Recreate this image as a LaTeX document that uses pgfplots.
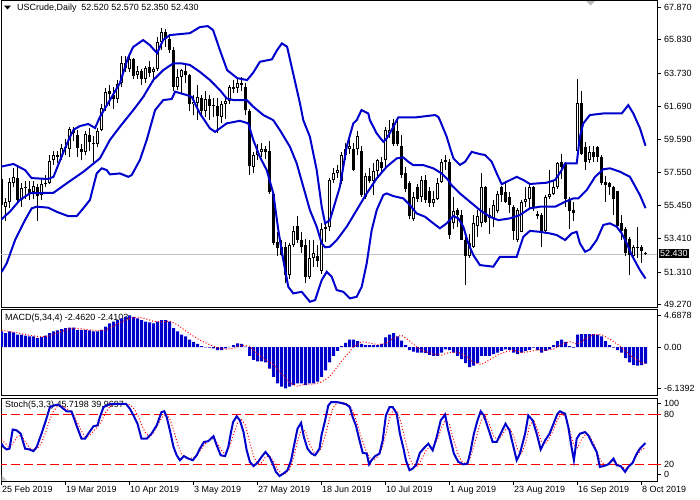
\documentclass[border=0pt]{standalone}
\usepackage{pgfplots}
\pgfplotsset{compat=1.18}
\usepackage{pgfplotstable}
\usepackage{fontspec}
\setmainfont{Liberation Sans}

\definecolor{mtblue}{RGB}{0,0,205}
\definecolor{pricegrey}{RGB}{192,192,192}
\newcommand{\mtfont}{\fontsize{9}{10}\selectfont}

% daily candles, bar 0 = 25 Feb 2019, bar 161 = 9 Oct 2019
\pgfplotstableread{
i O H L C
0 57.15 57.80 55.30 55.48
1 55.40 55.95 54.52 55.70
2 55.70 57.20 55.30 56.94
3 56.90 57.80 56.60 57.22
4 57.20 57.88 55.60 55.80
5 55.80 56.90 55.40 56.59
6 56.60 57.00 55.90 56.56
7 56.50 57.00 55.80 56.22
8 56.30 57.00 55.90 56.66
9 56.60 56.80 54.50 56.07
10 56.10 57.10 55.80 56.79
11 56.80 57.40 56.60 56.87
12 56.90 58.60 56.80 58.26
13 58.30 58.90 58.00 58.61
14 58.60 58.90 58.10 58.52
15 58.50 59.30 58.30 59.09
16 59.10 59.60 58.60 59.03
17 59.00 60.40 58.50 60.23
18 60.20 60.40 59.50 59.98
19 59.90 60.20 58.50 59.04
20 59.00 59.30 58.30 58.82
21 58.80 60.10 58.60 59.94
22 59.90 60.30 58.90 59.41
23 59.40 59.80 58.20 59.30
24 59.30 60.30 59.10 60.14
25 60.20 61.80 60.10 61.59
26 61.60 62.80 61.40 62.58
27 62.60 63.00 61.70 62.46
28 62.40 62.90 61.50 62.10
29 62.10 63.30 61.90 63.08
30 63.10 64.80 62.90 64.40
31 64.40 64.80 63.80 64.05
32 64.00 64.80 63.80 64.61
33 64.60 64.70 63.40 63.58
34 63.60 64.20 63.40 63.89
35 63.90 64.00 63.00 63.40
36 63.40 64.20 63.10 64.05
37 64.10 64.50 63.50 63.76
38 63.80 64.10 63.20 64.00
39 64.00 66.00 63.90 65.70
40 65.70 66.55 65.20 66.30
41 66.30 66.50 65.40 65.89
42 65.90 66.20 65.00 65.21
43 65.20 65.40 62.60 62.90
44 62.90 64.00 62.70 63.50
45 63.50 64.00 62.50 63.91
46 63.90 64.40 63.10 63.60
47 63.60 63.70 61.40 61.81
48 61.80 62.40 61.10 61.94
49 61.90 63.00 60.80 62.25
50 62.20 62.40 61.00 61.40
51 61.40 62.60 61.00 62.12
52 62.10 62.40 60.80 61.70
53 61.70 62.20 61.00 61.66
54 61.70 62.20 60.00 61.04
55 61.00 62.00 60.60 61.78
56 61.80 62.30 60.90 62.02
57 62.00 63.00 61.80 62.87
58 62.90 63.30 62.50 62.76
59 62.80 63.50 62.50 63.10
60 63.10 63.50 62.60 62.99
61 62.90 63.10 61.10 61.42
62 61.40 61.50 57.40 57.91
63 57.90 58.80 57.50 58.63
64 58.60 59.30 58.30 58.90
65 58.80 59.40 58.50 59.00
66 59.00 59.20 58.40 58.80
67 58.90 59.50 56.20 56.30
68 56.20 56.30 53.00 53.10
69 53.20 53.80 52.30 52.80
70 52.90 53.30 52.30 52.40
71 52.90 53.20 50.60 51.10
72 51.10 53.10 50.90 53.00
73 53.00 54.20 52.90 53.90
74 54.20 54.80 53.10 53.30
75 53.30 53.80 52.50 52.90
76 53.00 53.40 50.60 51.00
77 51.00 53.30 50.90 52.20
78 52.20 53.30 51.60 52.50
79 52.30 53.00 51.60 52.00
80 51.40 54.40 51.20 54.00
81 54.00 54.40 53.20 54.10
82 54.10 57.20 53.90 57.06
83 57.06 57.80 56.90 57.50
84 57.50 58.00 57.20 57.70
85 57.00 58.80 56.80 58.60
86 58.60 59.40 58.30 59.00
87 59.00 59.60 58.70 59.20
88 59.00 59.40 57.60 57.70
89 59.00 60.10 58.60 59.80
90 58.90 59.20 56.00 56.10
91 56.00 57.50 55.90 57.30
92 57.30 57.80 56.90 57.00
93 57.00 58.10 56.10 57.60
94 57.60 58.40 57.20 58.30
95 58.20 58.50 57.50 57.80
96 58.30 60.40 57.90 60.20
97 60.00 60.80 59.70 60.20
98 60.60 60.90 59.20 59.30
99 60.10 60.90 59.20 59.30
100 59.20 59.90 57.20 57.40
101 57.50 57.90 56.30 56.50
102 56.85 57.00 54.60 54.80
103 54.60 56.30 54.50 56.00
104 56.60 56.80 55.70 55.90
105 56.00 57.30 55.70 57.06
106 57.06 57.40 55.60 55.80
107 56.40 56.60 55.40 55.60
108 55.60 56.40 55.40 55.90
109 55.90 57.20 55.80 56.90
110 56.95 58.40 56.85 58.20
111 58.20 58.60 57.70 58.30
112 58.20 58.40 53.40 53.60
113 54.35 56.00 54.00 55.10
114 55.20 55.30 54.10 54.90
115 54.90 55.20 53.30 53.30
116 53.30 53.50 50.50 52.30
117 52.30 53.70 52.20 53.10
118 52.90 54.90 52.80 54.35
119 54.20 55.20 53.50 54.80
120 54.35 57.50 54.10 56.60
121 56.60 56.70 54.35 54.45
122 54.90 55.30 53.70 54.70
123 54.70 55.80 54.10 55.50
124 55.10 56.40 55.00 56.20
125 56.60 56.70 55.70 56.10
126 56.30 57.00 55.60 55.70
127 56.00 56.30 55.00 55.50
128 55.40 55.50 53.30 53.90
129 53.30 55.30 53.20 55.20
130 53.80 55.80 53.80 55.70
131 55.70 56.60 55.40 55.90
132 55.90 56.80 55.30 56.60
133 56.60 56.70 55.10 55.40
134 54.95 55.10 54.60 54.80
135 54.90 55.00 52.90 53.80
136 53.90 56.10 53.80 56.00
137 56.00 57.70 55.90 56.20
138 56.20 57.00 56.10 56.60
139 56.60 58.20 56.50 58.10
140 58.20 58.70 57.10 57.90
141 58.10 58.20 55.40 55.90
142 55.90 56.00 54.00 55.10
143 55.20 55.70 54.50 54.97
144 58.90 63.40 58.70 61.90
145 61.90 62.60 58.60 58.70
146 59.10 59.45 57.70 58.20
147 58.30 59.20 58.10 58.80
148 58.80 59.20 58.20 58.50
149 59.10 59.20 58.20 58.50
150 58.50 58.60 56.75 56.85
151 56.95 57.30 55.70 56.75
152 56.85 56.95 56.10 56.60
153 56.60 56.70 54.90 55.90
154 56.40 56.40 54.10 54.20
155 54.35 54.90 53.30 53.90
156 54.00 54.10 52.30 52.50
157 53.40 53.50 51.10 52.40
158 52.30 53.00 52.20 52.90
159 52.90 54.10 52.20 52.80
160 52.85 53.00 51.85 52.60
161 52.52 52.57 52.35 52.43
}\candles

% MACD(5,34,4) main line, drawn as histogram
\pgfplotstableread{
i m
0 2.31
1 2.07
2 2.31
3 2.16
4 1.83
5 1.83
6 1.68
7 1.59
8 1.59
9 1.35
10 1.49
11 1.68
12 2.07
13 2.31
14 2.45
15 2.64
16 2.79
17 2.88
18 2.88
19 2.55
20 2.55
21 2.55
22 2.45
23 2.31
24 2.31
25 2.55
26 3.03
27 3.51
28 3.75
29 3.99
30 4.23
31 4.47
32 4.69
33 4.47
34 4.23
35 3.99
36 3.75
37 3.65
38 3.51
39 3.75
40 3.99
41 3.99
42 3.75
43 2.79
44 2.31
45 1.83
46 1.59
47 1.11
48 0.77
49 0.48
50 0.14
51 -0.05
52 -0.10
53 -0.19
54 -0.48
55 -0.48
56 -0.19
57 0.02
58 0.29
59 0.53
60 0.48
61 0.05
62 -1.30
63 -1.92
64 -2.12
65 -2.12
66 -2.26
67 -3.22
68 -4.42
69 -5.38
70 -5.87
71 -6.14
72 -5.87
73 -5.63
74 -5.38
75 -5.38
76 -5.63
77 -5.38
78 -5.38
79 -5.14
80 -4.42
81 -3.46
82 -2.26
83 -1.30
84 -0.58
85 0.14
86 0.63
87 1.11
88 1.11
89 0.87
90 0.48
91 0.29
92 0.29
93 0.29
94 0.29
95 0.48
96 1.44
97 1.83
98 2.07
99 1.59
100 0.96
101 0.29
102 -0.48
103 -0.67
104 -0.82
105 -0.82
106 -0.91
107 -1.15
108 -1.30
109 -1.30
110 -0.82
111 -0.34
112 -0.48
113 -0.82
114 -1.30
115 -1.78
116 -2.40
117 -2.98
118 -2.74
119 -2.40
120 -1.30
121 -1.30
122 -1.30
123 -1.06
124 -0.82
125 -0.58
126 -0.34
127 -0.43
128 -0.82
129 -1.06
130 -0.82
131 -0.58
132 -0.43
133 -0.10
134 -0.48
135 -0.82
136 -0.58
137 -0.34
138 0.29
139 0.87
140 1.11
141 0.77
142 0.14
143 -0.10
144 1.83
145 1.92
146 1.92
147 1.92
148 1.92
149 1.83
150 1.59
151 0.87
152 0.29
153 -0.10
154 -0.48
155 -0.82
156 -1.63
157 -2.26
158 -2.70
159 -2.74
160 -2.70
161 -2.46
}\macd

% Stoch(5,3,3) main line
\pgfplotstableread{
i k
0 45
0.5 41
1.3 38
2.0 39
2.8 62
3.8 61
4.8 57
5.9 39
7.0 38
8.0 36
8.8 41
10.0 57
11.1 73
12.1 89
13.1 91
14.2 92
15.5 87
16.3 84
17.5 84
18.6 69
20.0 51
20.9 51
21.7 57
23.0 66
24.0 67
24.6 77
25.5 89
26.7 92
28.0 93
29.6 93
31.1 93
32.1 87
33.0 79
34.0 69
35.0 51
36.3 51
37.5 57
38.8 67
40.0 83
40.7 84
41.3 77
42.1 61
43.0 41
43.8 31
44.6 25
45.6 30
46.7 27
47.8 25
48.8 31
49.6 39
50.6 47
51.7 48
53.0 54
53.8 43
54.8 31
55.9 30
56.7 41
57.3 57
57.9 71
58.8 78
59.6 73
60.5 59
61.3 37
62.1 23
63.0 18
64.0 22
65.0 29
66.0 35
67.0 29
67.8 21
68.6 11
69.5 6
70.5 9
71.5 13
72.4 25
73.4 49
74.0 63
74.9 70
75.6 53
76.5 39
77.5 33
78.4 31
79.5 39
80.0 55
80.9 73
81.7 91
82.4 95
83.8 95
85.0 94
86.3 92
87.1 89
87.8 77
88.6 67
89.5 49
90.3 34
91.3 33
91.9 20
92.5 25
93.4 30
94.5 33
95.3 49
96.1 79
97.0 89
97.8 89
98.8 81
99.6 57
100.5 39
101.1 25
102.0 13
102.8 15
103.6 19
104.6 34
105.5 39
106.7 45
107.8 37
108.8 53
109.8 73
110.9 80
111.5 65
112.3 49
113.1 33
114.2 23
115.5 20
116.5 21
117.3 37
118.1 57
119.0 73
119.8 84
120.6 79
121.7 63
122.8 47
123.8 47
124.8 57
126.0 69
127.0 61
128.0 41
128.8 25
129.6 33
130.9 57
131.7 79
132.8 73
133.8 57
134.8 38
135.9 49
137.0 57
138.0 69
139.0 81
139.6 84
140.9 81
141.7 65
142.5 41
143.1 25
143.8 51
144.6 57
145.9 59
146.7 55
147.7 45
148.8 35
149.6 17
150.5 18
151.7 20
153.0 27
153.8 19
154.8 18
155.9 11
156.7 17
157.8 22
158.7 32
159.6 39
161 45.7
}\stochk

% Stoch signal line
\pgfplotstableread{
i d
0 50
1 45
2 40
3 46
4 54
5 55
6 47
7 40
8 38
9 39
10 46
11 58
12 73
13 84
14 90
15 91
16 88
17 85
18 80
19 70
20 60
21 53
22 55
23 60
24 65
25 72
26 82
27 89
28 92
30 93
32 92
33 88
34 80
35 68
36 58
37 53
38 58
39 67
40 76
41 81
42 76
43 62
44 45
45 32
46 28
47 27
48 28
49 32
50 39
51 45
52 50
53 51
54 45
55 37
56 32
57 41
58 56
59 70
60 74
61 67
62 48
63 30
64 21
65 22
66 29
67 30
68 24
69 14
70 9
71 9
72 14
73 28
74 48
75 62
76 60
77 45
78 35
79 33
80 40
81 56
82 75
83 89
84 95
85 95
86 94
87 91
88 82
89 68
90 52
91 38
92 28
93 25
94 29
95 38
96 55
97 75
98 87
99 84
100 68
101 48
102 28
103 18
104 18
105 26
106 36
107 41
108 42
109 50
110 64
111 74
112 68
113 50
114 34
115 24
116 21
117 26
118 40
119 58
120 74
121 78
122 68
123 54
124 50
125 54
126 62
127 64
128 55
129 38
130 33
131 45
132 66
133 74
134 62
135 47
136 45
137 52
138 62
139 74
140 81
141 78
142 62
143 44
144 40
145 50
146 56
147 54
148 46
149 33
150 23
151 19
152 22
153 24
154 21
155 17
156 15
157 18
158 25
159 32
160 38
161 40
}\stochd

\pgfplotsset{
  panel/.style={
    scale only axis, width=656bp, xmin=-0.125, xmax=163.875,
    axis line style={black, line width=1bp},
    xtick=\empty, ytick pos=right, yticklabel pos=right,
    tick align=outside, major tick length=4bp,
    tick style={black, line width=0.8bp},
    yticklabel style={font=\mtfont, anchor=west, inner sep=0pt, xshift=3bp},
    /pgf/number format/assume math mode=true,
  },
  candle/.style={draw=none, mark=none, forget plot,
    error bars/.cd, y dir=plus, y explicit, error mark=none},
}

\begin{document}
\begin{tikzpicture}[x=1bp, y=1bp]
\useasboundingbox (0bp,0bp) rectangle (700bp,-500bp);

% captions sit under the plotted data
\fill (4bp,-5.5bp) -- (11bp,-5.5bp) -- (7.5bp,-9.5bp) -- cycle;
\node[anchor=west, inner sep=0pt, font=\mtfont] at (17bp,-8bp) {USCrude,Daily\ \ 52.520 52.570 52.350 52.430};
\node[anchor=west, inner sep=0pt, font=\mtfont] at (5bp,-318bp) {MACD(5,34,4) -2.4620 -2.4103};
\node[anchor=west, inner sep=0pt, font=\mtfont] at (5bp,-405bp) {Stoch(5,3,3) 45.7198 39.9697};

%---------------- price panel
\begin{axis}[panel, at={(1bp,-1bp)}, anchor=north west, height=306bp,
  ymin=49.12, ymax=68.25,
  ytick={49.27,51.31,53.41,55.45,57.55,59.59,61.69,63.73,65.83,67.87},
  yticklabels={49.270,51.310,53.410,55.450,57.550,59.590,61.690,63.730,65.830,67.870}]
\addplot[pricegrey, line width=1bp] coordinates {(-1,52.43) (165,52.43)};
% wicks
\addplot[candle, error bar style={draw=black, line width=1bp}]
  table[x=i, y=L, y error expr=\thisrow{H}-\thisrow{L}] {\candles};
% bodies
\addplot[candle, error bar style={draw=black, line width=3bp}]
  table[x=i, y expr={min(\thisrow{O},\thisrow{C})},
        y error expr={max(abs(\thisrow{C}-\thisrow{O}),0.07)}] {\candles};
% hollow inside of rising candles
\addplot[candle, error bar style={draw=white, line width=1bp}]
  table[x=i, y expr={\thisrow{O}+0.0625},
        y error expr={max(\thisrow{C}-\thisrow{O}-0.125,0)}] {\candles};
% Bollinger bands (20,2)
\addplot[mtblue, line width=2bp] coordinates {
(0,57.9)(3.0,58.06)(5.9,57.68)(7.5,57.18)(11.7,57.12)(13.0,57.26)(15.0,58.51)
(17.0,59.7)(18.0,60.2)(19.6,60.43)(21.7,60.56)(23.4,60.31)(24.6,61.0)(27.1,62.06)
(29.6,63.12)(31.6,64.68)(32.9,65.37)(35.4,65.81)(37.1,65.49)(38.9,64.99)(40.4,65.81)
(42.1,66.12)(47.1,66.24)(49.6,66.62)(51.6,66.68)(52.9,66.43)(54.6,65.18)(56.4,63.93)
(58.9,63.43)(61.4,63.31)(62.9,63.76)(64.6,64.45)(67.6,64.6)(68.9,65.18)(70.1,65.6)
(71.4,65.39)(72.9,63.74)(74.6,61.87)(75.45,60.8)(77.1,59.76)(78.8,57.68)(80.05,55.39)
(80.9,54.35)(82.1,54.55)(84.6,56.64)(86.3,59.14)(87.95,60.6)(88.8,60.8)(90.0,61.43)
(91.7,61.22)(92.1,60.8)(93.8,59.97)(95.45,59.45)(96.3,59.66)(98.0,60.39)(98.8,60.8)
(99.2,60.97)(103.4,60.97)(108.4,61.12)(109.2,61.0)(109.6,60.8)(111.3,59.76)(112.1,59.1)
(113.0,58.4)(114.6,58.0)(115.9,58.2)
(117.55,58.82)(119.6,58.68)(120.9,58.62)(122.55,58.2)(123.8,57.47)(125.05,56.8)
(126.3,56.95)(128.8,57.26)(130.45,57.06)(132.1,56.81)(136.3,56.89)(138.4,57.06)
(140.05,57.68)(140.9,58.1)(143.8,58.1)(144.2,58.93)(144.6,59.76)(145.45,60.6)
(147.1,61.12)(150.45,61.22)(155.05,61.22)(156.7,61.74)(157.95,61.22)(159.6,60.3)(161,59.2)};
\addplot[mtblue, line width=2bp] coordinates {
(0,54.6)(2.1,55.08)(4.6,55.81)(7.1,56.23)(13.0,56.26)(16.3,56.85)(20.5,57.58)
(24.6,58.41)(27.1,59.56)(29.6,60.39)(32.95,61.43)(35.45,62.26)(37.95,63.31)(40.45,63.93)
(42.95,64.35)(45.05,64.35)(47.1,64.25)(49.6,63.82)(52.1,63.31)(54.6,62.68)(56.3,62.16)
(57.95,62.06)(61.3,62.06)(62.95,61.64)(65.45,61.12)(67.95,60.8)(69.6,60.18)(72.1,59.14)
(73.8,58.1)(75.45,56.64)(77.1,55.18)(78.8,54.14)(80.05,53.1)(80.9,52.85)(82.1,52.89)
(83.8,53.3)(86.3,54.14)(88.8,55.18)(91.3,56.22)(93.8,57.16)(96.3,57.89)(98.8,58.41)
(100.45,58.47)(101.7,58.2)(102.95,57.99)(105.45,57.99)(107.95,57.79)(110.05,57.47)
(111.7,57.05)(112.5,56.74)(114.6,56.22)(117.1,55.7)(119.6,55.18)
(122.1,54.76)(124.2,54.55)(127.1,54.66)(129.6,54.87)(132.1,55.29)(134.6,55.39)(138.4,55.39)
(140.9,55.7)(142.95,55.91)(144.2,55.91)(146.3,56.43)(148.4,57.26)(150.45,57.73)(152.1,57.79)
(154.6,57.58)(157.1,57.26)(159.6,56.12)(161,55.3)};
\addplot[mtblue, line width=2bp] coordinates {
(0,51.3)(1.3,51.85)(3.4,53.31)(5.9,54.56)(7.55,55.29)(8.8,55.39)(11.7,55.33)(13.8,55.07)
(16.7,54.8)(18.8,54.8)(20.45,55.29)(22.1,55.81)(23.8,57.47)(25.05,57.79)(26.3,57.68)
(27.1,57.41)(29.6,57.47)(31.7,57.26)(32.55,57.37)(34.6,58.31)(36.3,59.56)(38.4,61.43)
(40.45,62.06)(42.55,62.12)(43.4,62.58)(46.3,62.37)(47.55,62.26)(49.6,61.22)(52.1,60.29)
(53.4,60.07)(56.3,60.6)(59.6,60.76)(61.7,60.6)(62.95,59.56)(64.6,58.5)(66.3,57.68)
(67.95,56.22)(69.2,53.93)(70.45,52.05)(71.7,50.38)(72.95,49.97)(75.05,50.07)(77.1,49.45)
(78.4,49.55)(80.05,50.8)(81.3,51.32)(82.55,51.01)(83.8,50.18)(85.45,50.07)(87.1,49.66)
(88.8,49.76)(90.05,50.38)(91.3,51.85)(92.55,53.93)(93.8,55.18)(95.45,56.12)(96.3,56.22)
(98.0,56.05)(100.45,55.91)(102.1,55.49)(103.8,54.97)(105.9,54.76)(107.95,54.35)(109.6,54.04)
(111.3,54.35)(112.95,54.81)(114.2,54.66)
(115.45,54.14)(116.7,53.1)(117.95,52.37)(119.6,51.74)(122.95,51.64)(124.6,52.26)(128.8,52.26)
(130.45,53.51)(132.1,53.88)(134.6,53.82)(137.1,53.72)(138.8,53.62)(140.9,53.31)(142.55,53.72)
(143.8,53.82)(144.6,53.1)(145.9,52.57)(147.1,52.72)(148.8,53.31)(150.45,54.25)(152.1,54.35)
(153.8,54.14)(155.05,53.72)(156.3,53.1)(157.55,52.37)(159.6,51.43)(161,50.9)};
\end{axis}
\fill[gray!55] (586bp,-1bp) -- (595bp,-1bp) -- (590.5bp,-5.5bp) -- cycle;
\node[fill=black, text=white, anchor=west, inner sep=1bp, font=\mtfont] at (659bp,-253.5bp) {52.430};

%---------------- MACD panel
\begin{axis}[panel, at={(1bp,-309bp)}, anchor=north west, height=86bp,
  ymin=-7.11, ymax=5.63,
  ytick={-6.1392,0,4.6878}, yticklabels={-6.1392,0.00,4.6878}]
\addplot[ybar, bar width=3bp, fill=mtblue, draw=none] table[x=i, y=m] {\macd};
\addplot[red, line width=1bp, dash pattern=on 1bp off 2bp] coordinates {
(0,2.5)(2,2.3)(4,2.1)(6,1.85)(8,1.65)(10,1.5)(12,1.65)(14,2.1)(16,2.5)(18,2.8)(20,2.7)
(22,2.55)(24,2.4)(26,2.5)(28,3.1)(30,3.7)(32,4.2)(34,4.45)(36,4.2)(38,3.8)(40,3.7)
(42,3.85)(44,3.3)(46,2.4)(48,1.6)(50,0.9)(52,0.35)(54,-0.1)(56,-0.35)(58,-0.2)(60,0.25)
(62,0.1)(64,-1.0)(66,-1.9)(68,-2.6)(70,-4.0)(72,-5.3)(74,-5.8)(76,-5.5)(78,-5.5)(80,-5.2)
(82,-4.4)(84,-2.9)(86,-1.4)(88,0.0)(90,0.8)(92,0.6)(94,0.35)(96,0.5)(98,1.3)(100,1.75)
(102,0.9)(104,-0.1)(106,-0.7)(108,-1.05)(110,-1.2)(112,-0.8)(114,-0.75)(116,-1.3)(118,-2.3)
(120,-2.6)(122,-1.9)(124,-1.2)(126,-0.7)(128,-0.5)(130,-0.8)(132,-0.7)(134,-0.4)(136,-0.5)
(138,-0.3)(140,0.4)(142,0.8)(144,0.4)(146,1.2)(148,1.85)(150,1.85)(152,1.2)(154,0.4)
(156,-0.6)(158,-1.6)(160,-2.3)(161,-2.41)};
\end{axis}

%---------------- Stochastic panel
\begin{axis}[panel, at={(1bp,-398bp)}, anchor=north west, height=83bp,
  ymin=0, ymax=100,
  ytick={8.4,93.6}, yticklabels={0,100},
  extra y ticks={20,80}, extra y tick labels={20,80},
  extra y tick style={tick style={red, line width=1bp}},
  xtick={0,16,...,160}, xtick pos=bottom,
  xticklabels={25 Feb 2019,19 Mar 2019,10 Apr 2019,3 May 2019,27 May 2019,18 Jun 2019,
    10 Jul 2019,1 Aug 2019,23 Aug 2019,16 Sep 2019,8 Oct 2019},
  xticklabel style={font=\mtfont, anchor=north west, inner sep=0pt, xshift=0.5bp, yshift=-1bp}]
\addplot[red, line width=1bp, dash pattern=on 9bp off 4bp] coordinates {(-1,20) (165,20)};
\addplot[red, line width=1bp, dash pattern=on 9bp off 4bp] coordinates {(-1,80) (165,80)};
\addplot[red, line width=1bp, dash pattern=on 1bp off 2bp] table[x=i, y=d] {\stochd};
\addplot[mtblue, line width=2bp] table[x=i, y=k] {\stochk};
\end{axis}
\fill[gray!45] (1.5bp,-475bp) -- (1.5bp,-480.5bp) -- (7bp,-480.5bp) -- cycle;
\end{tikzpicture}
\end{document}
